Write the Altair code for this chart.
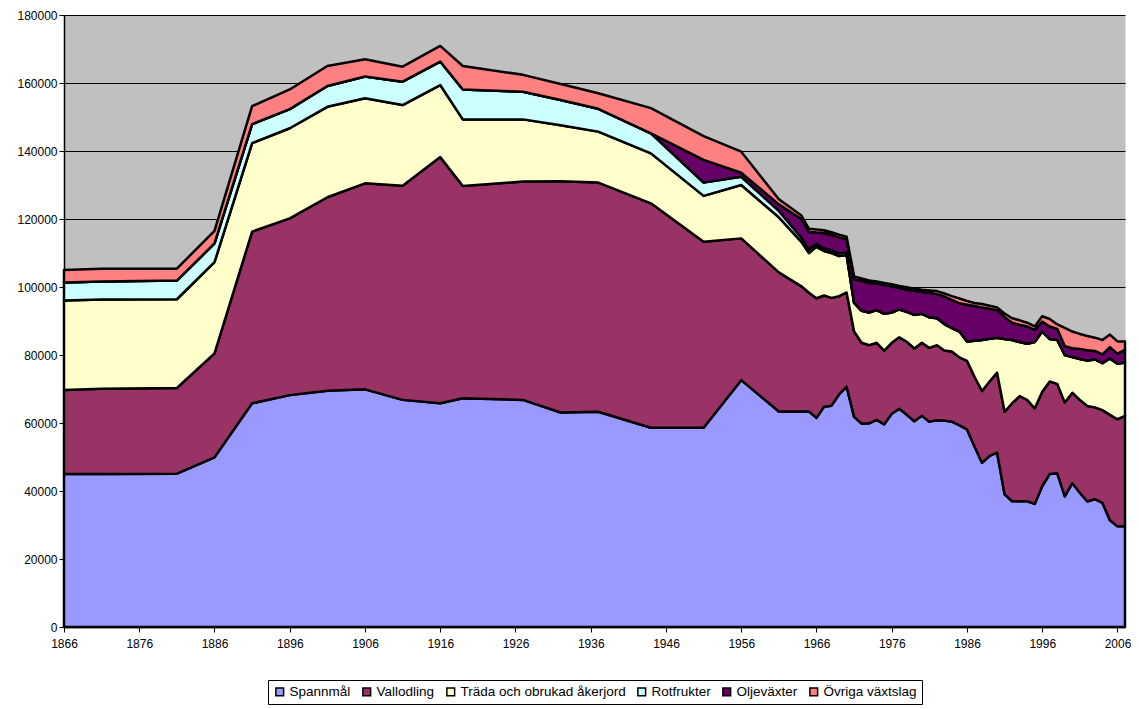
import altair as alt
import pandas as pd

years = [1866, 1871, 1881, 1886, 1891, 1896, 1901, 1906, 1911, 1916, 1919, 1927,
         1932, 1937, 1944, 1951, 1956, 1961, 1964, 1965, 1966, 1967, 1968, 1969,
         1970, 1971, 1972, 1973, 1974, 1975, 1976, 1977, 1978, 1979, 1980, 1981,
         1982, 1983, 1984, 1985, 1986, 1987, 1988, 1989, 1990, 1991, 1992, 1993,
         1994, 1995, 1996, 1997, 1998, 1999, 2000, 2001, 2002, 2003, 2004, 2005,
         2006, 2007]

# values in thousands
spannmal = [45.0, 45.0, 45.1, 49.9, 65.8, 68.2, 69.5, 69.9, 66.8, 65.8, 67.3, 66.8,
            63.1, 63.3, 58.6, 58.6, 72.6, 63.4, 63.4, 63.4, 61.5, 64.8, 65.1, 68.4,
            70.7, 61.8, 59.8, 59.9, 60.9, 59.6, 62.7, 64.2, 62.4, 60.5, 62.1, 60.4,
            60.8, 60.7, 60.4, 59.3, 58.1, 53.1, 48.3, 50.3, 51.3, 39.0, 37.0, 37.0,
            37.0, 36.2, 41.4, 45.0, 45.2, 38.4, 42.3, 39.5, 36.9, 37.6, 36.5, 31.4,
            29.6, 29.6]
vallodling = [24.7, 25.1, 25.2, 30.6, 50.5, 52.0, 56.9, 60.6, 63.0, 72.4, 62.4, 64.2,
              68.0, 67.4, 66.0, 54.7, 41.7, 40.9, 36.8, 34.9, 35.2, 32.7, 31.7, 28.9,
              27.7, 25.1, 23.8, 23.0, 22.7, 21.7, 20.9, 21.0, 21.5, 21.4, 21.5, 21.7,
              22.1, 20.6, 20.6, 20.0, 20.2, 20.5, 21.1, 21.9, 23.5, 24.3, 28.8, 30.9,
              29.8, 28.1, 27.8, 27.2, 26.3, 27.6, 26.6, 27.3, 28.1, 27.0, 27.3, 31.0,
              31.5, 32.5]
trada = [26.3, 26.2, 26.1, 26.8, 26.0, 26.5, 26.6, 25.0, 23.7, 21.2, 19.6, 18.3,
         16.5, 15.0, 14.7, 13.5, 15.7, 16.2, 13.1, 11.7, 15.1, 13.1, 13.2, 11.8,
         10.9, 8.4, 9.4, 9.6, 9.6, 10.8, 8.9, 8.2, 8.8, 9.9, 8.5, 9.0,
         7.9, 7.8, 6.9, 7.6, 5.7, 10.6, 15.0, 12.6, 10.3, 21.4, 18.6, 15.9,
         16.5, 19.5, 17.7, 12.5, 12.9, 14.0, 10.5, 12.0, 13.4, 14.1, 13.8, 16.6,
         16.3, 15.7]
rotfrukter = [5.3, 5.3, 5.5, 5.5, 5.6, 5.6, 6.1, 6.4, 6.9, 6.9, 8.8, 8.1,
              7.4, 6.7, 5.9, 3.9, 2.4, 1.9, 1.2, 1.0, 0.9, 0.8, 0.8, 0.8,
              0.8, 0, 0, 0, 0, 0, 0, 0, 0, 0, 0, 0,
              0, 0, 0, 0, 0, 0, 0, 0, 0, 0, 0, 0,
              0, 0, 0, 0, 0, 0, 0, 0, 0, 0, 0, 0,
              0, 0]
oljevaxter = [0, 0, 0, 0, 0, 0, 0, 0, 0, 0, 0, 0,
              0, 0, 0, 6.7, 1.2, 1.9, 5.5, 5.2, 3.3, 4.5, 4.5, 4.7,
              3.9, 6.9, 8.8, 8.7, 7.8, 8.5, 7.7, 6.3, 6.5, 7.1, 6.5, 7.2,
              7.1, 8.1, 8.3, 8.3, 10.8, 10.2, 9.6, 8.8, 8.1, 6.5, 5.1, 5.1,
              5.1, 3.6, 2.9, 3.7, 3.3, 2.6, 2.6, 3.0, 3.0, 2.5, 2.6, 3.3,
              3.0, 3.7]
ovriga = [3.7, 3.8, 3.5, 3.7, 5.3, 5.8, 5.9, 5.1, 4.4, 4.6, 6.9, 5.0,
          4.7, 4.6, 7.4, 7.0, 6.2, 1.5, 1.0, 0.9, 0.9, 0.8, 0.8, 0.8,
          0.8, 0.9, 0.7, 0.7, 0.6, 0.6, 0.6, 0.6, 0.7, 0.6, 0.6, 0.7,
          0.9, 0.9, 1.1, 1.4, 1.1, 0.9, 1.0, 0.9, 0.8, 1.0, 1.3, 1.3,
          1.1, 1.0, 1.6, 2.2, 1.3, 5.4, 4.9, 4.4, 4.2, 3.9, 4.2, 3.7,
          3.6, 2.5]

series_names = ["Spannmål", "Vallodling", "Träda och obrukad åkerjord",
                "Rotfrukter", "Oljeväxter", "Övriga växtslag"]
series_values = [spannmal, vallodling, trada, rotfrukter, oljevaxter, ovriga]
colors = ["#9999FF", "#993366", "#FFFFCC", "#CCFFFF", "#660066", "#FF8080"]

x_ticks = list(range(1866, 2007, 10))
y_ticks = list(range(0, 180001, 20000))

rows = []
for i, (name, vals) in enumerate(zip(series_names, series_values)):
    for yr, v in zip(years, vals):
        rows.append({"year": yr, "serie": name, "value": v * 1000, "ord": i})
df = pd.DataFrame(rows)

FONT = "Liberation Sans"

chart = alt.Chart(df).mark_area(
    stroke="black", strokeWidth=2.5, strokeJoin="round", interpolate="linear"
).encode(
    x=alt.X("year:Q",
            scale=alt.Scale(domain=[1866, 2007], nice=False, zero=False),
            axis=alt.Axis(values=x_ticks, format="d", title=None, grid=False,
                          domainColor="black", domainWidth=1.5, tickColor="black",
                          tickSize=5, labelFlush=False, labelOverlap=False,
                          labelFont=FONT, labelFontSize=12, labelColor="black",
                          labelPadding=6)),
    y=alt.Y("value:Q", stack="zero",
            scale=alt.Scale(domain=[0, 180000], nice=False),
            axis=alt.Axis(values=y_ticks, format="d", title=None, grid=True,
                          gridColor="black", gridWidth=1, domainColor="black",
                          domainWidth=1.5, tickColor="black", tickSize=5,
                          labelFont=FONT, labelFontSize=12, labelColor="black",
                          labelPadding=2, labelFlush=False)),
    color=alt.Color("serie:N",
                    scale=alt.Scale(domain=series_names, range=colors),
                    sort=series_names,
                    legend=alt.Legend(orient="none", legendX=204, legendY=665,
                                      direction="horizontal", title=None,
                                      strokeColor="black", fillColor="white",
                                      padding=5, symbolType="square",
                                      symbolSize=60, symbolStrokeColor="black",
                                      symbolStrokeWidth=1.5, labelFont=FONT,
                                      labelFontSize=13.5, labelColor="black",
                                      labelLimit=400,
                                      columnPadding=8, labelOffset=3)),
    order=alt.Order("ord:Q", sort="ascending"),
).properties(
    width=1061, height=612,
    padding={"left": 56, "top": 7, "right": 6, "bottom": 78},
    autosize=alt.AutoSizeParams(type="none"),
).configure_view(
    fill="#C0C0C0", stroke="transparent"
)

chart.save("out.html", embed_options={"renderer": "svg", "actions": False})
